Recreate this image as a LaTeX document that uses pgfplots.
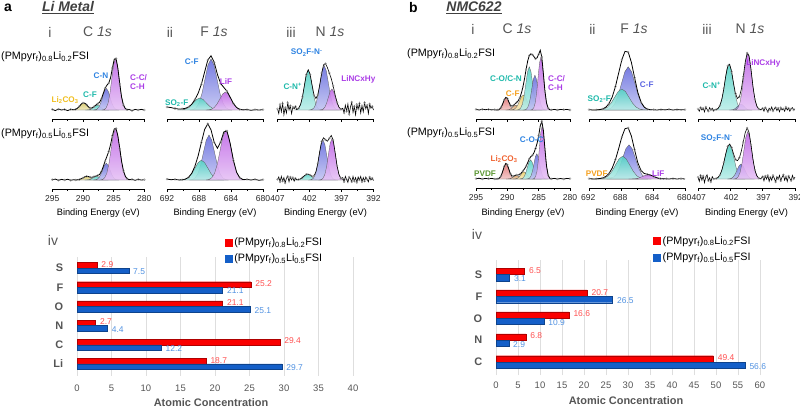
\documentclass[border=0pt]{standalone}
\usepackage{fontspec}
\setmainfont{Liberation Sans}
\setsansfont{Liberation Sans}
\usepackage{pgfplots}
\pgfplotsset{compat=1.18}
\newcommand{\fs}[1]{\fontsize{#1}{#1}\selectfont}
\definecolor{cvio}{RGB}{192,104,230}
\definecolor{cslate}{RGB}{104,110,222}
\definecolor{cteal}{RGB}{85,210,198}
\definecolor{cyel}{RGB}{215,200,100}
\definecolor{csalm}{RGB}{225,115,115}
\definecolor{ctan}{RGB}{220,160,100}
\definecolor{cyel2}{RGB}{235,205,100}
\definecolor{corg}{RGB}{240,170,60}
\definecolor{lyel}{RGB}{240,190,30}
\definecolor{lteal}{RGB}{30,185,170}
\definecolor{lblue}{RGB}{45,130,225}
\definecolor{lvio}{RGB}{170,60,230}
\definecolor{lorg}{RGB}{245,160,30}
\definecolor{lred}{RGB}{240,100,50}
\definecolor{lgreen}{RGB}{90,150,50}
\definecolor{lslate}{RGB}{90,100,225}
\definecolor{bred}{RGB}{250,0,0}
\definecolor{bblue}{RGB}{20,95,200}
\definecolor{vred}{RGB}{255,80,80}
\definecolor{vblue}{RGB}{80,145,225}
\definecolor{gtxt}{RGB}{85,85,85}
\pgfplotsset{
  spec/.style={scale only axis, height=69bp, anchor=south west,
    axis x line=bottom, axis y line=none, axis line style={-, line width=0.55pt},
    x dir=reverse, ymin=-0.15, ymax=1.0, minor x tick num=1,
    tick align=outside, major tick length=2.8bp, minor tick length=1.8bp,
    tick style={black, line width=0.5pt},
    xticklabel style={font=\fs{8.6}, text=black!85},
    /pgf/number format/assume math mode=true, clip=false},
  nolab/.style={xticklabels={}},
  pk/.style={draw=black!65, line width=0.3pt, top color=#1, bottom color=#1!40!white, fill opacity=0.9},
  dat/.style={black, line width=0.8pt, mark=o, mark size=1.05bp, mark repeat=2, mark options={draw=black!45, line width=0.3pt}},
  noisy/.style={black, line width=0.6pt, mark=o, mark size=1.05bp, mark repeat=2, mark options={draw=black!45, line width=0.3pt}},
  bars/.style={scale only axis, anchor=south west, xbar, bar width=0.29,
    axis line style={draw=none}, xtick style={draw=none}, ytick style={draw=none},
    xmajorgrids, grid style={black!13, line width=0.6pt},
    xticklabel style={font=\fs{9.5}, text=gtxt},
    yticklabel style={font=\bfseries\fs{11}, text=gtxt, xshift=-6bp},
    /pgf/number format/assume math mode=true, clip=false,
    legend style={draw=none, fill=none, font=\fs{10.8}, row sep=3bp, inner sep=0pt, cells={anchor=west}}},
  redbar/.style={fill=bred, draw=bred!70!black, line width=0.3pt, bar shift=0.145, forget plot, nodes near coords, point meta=explicit symbolic, every node near coord/.append style={anchor=west, font=\fs{8.5}, text=vred, yshift=1bp, xshift=1bp}},
  bluebar/.style={fill=bblue, draw=bblue!70!black, line width=0.3pt, bar shift=-0.145, forget plot, nodes near coords, point meta=explicit symbolic, every node near coord/.append style={anchor=west, font=\fs{8.5}, text=vblue, yshift=-1bp, xshift=1bp}},
}
\newcommand{\pk}[2]{\addplot[pk=#1] coordinates {#2} -- cycle;}
\begin{document}
\begin{tikzpicture}
\useasboundingbox (0,0) rectangle (800bp,-408bp);

% ===== a-i C 1s =====
\begin{axis}[spec, nolab, at={(52.3bp,-119bp)}, width=92bp, xmin=280, xmax=295, xtick={280,285,290,295}]
\pk{cyel}{(292.0,0) (291.7,.001) (291.4,.005) (291.1,.016) (290.8,.039) (290.5,.073) (290.2,.106) (289.9,.12) (289.6,.106) (289.3,.073) (289.0,.039) (288.7,.016) (288.4,.005) (288.1,.001) (287.8,0)}
\pk{cteal}{(289.625,0) (289.35,.001) (289.075,.004) (288.8,.011) (288.525,.026) (288.25,.049) (287.975,.071) (287.7,.08) (287.425,.071) (287.15,.049) (286.875,.026) (286.6,.011) (286.325,.004) (286.05,.001) (285.775,0)}
\pk{cslate}{(288.3,0) (288.0,.004) (287.7,.016) (287.4,.049) (287.1,.117) (286.8,.219) (286.5,.318) (286.2,.36) (285.9,.318) (285.6,.219) (285.3,.117) (285.0,.049) (284.7,.016) (284.4,.004) (284.1,0)}
\pk{cvio}{(286.8,0) (286.5,.009) (286.2,.038) (285.9,.116) (285.6,.280) (285.3,.522) (285.0,.759) (284.7,.86) (284.4,.759) (284.1,.522) (283.8,.280) (283.5,.116) (283.2,.038) (282.9,.009) (282.6,0)}
\addplot[dat] coordinates {(295,.01) (294.5,-.01) (294,.015) (293.5,0) (293,.01) (292.5,-.01) (292,.01) (291.5,.003) (291.2,.011) (290.9,.030) (290.6,.061) (290.3,.096) (290.0,.118) (289.7,.114) (289.4,.086) (289.1,.052) (288.8,.033) (288.5,.036) (288.2,.056) (287.9,.082) (287.6,.103) (287.3,.128) (287.0,.184) (286.7,.273) (286.4,.361) (286.1,.413) (285.8,.449) (285.5,.536) (285.2,.699) (284.9,.848) (284.6,.858) (284.3,.690) (284.0,.434) (283.7,.214) (283.4,.082) (283.1,.025) (282.8,.006) (282.5,.01) (282,-.01) (281.5,.01) (281,0) (280.5,.01) (280,0)};
\end{axis}
\begin{axis}[spec, at={(52.3bp,-189bp)}, width=92bp, xmin=280, xmax=295, xtick={280,285,290,295}]
\pk{cyel}{(291.5,0) (291.2,.001) (290.9,.003) (290.6,.008) (290.3,.020) (290.0,.036) (289.7,.053) (289.4,.06) (289.1,.053) (288.8,.036) (288.5,.020) (288.2,.008) (287.9,.003) (287.6,.001) (287.3,0)}
\pk{cteal}{(289.725,0) (289.45,.001) (289.175,.003) (288.9,.008) (288.625,.020) (288.35,.036) (288.075,.053) (287.8,.06) (287.525,.053) (287.25,.036) (286.975,.020) (286.7,.008) (286.425,.003) (286.15,.001) (285.875,0)}
\pk{cslate}{(288.3,0) (288.0,.003) (287.7,.012) (287.4,.038) (287.1,.091) (286.8,.170) (286.5,.247) (286.2,.28) (285.9,.247) (285.6,.170) (285.3,.091) (285.0,.038) (284.7,.012) (284.4,.003) (284.1,0)}
\pk{cvio}{(287.15,0) (286.8,.009) (286.45,.038) (286.1,.116) (285.75,.280) (285.4,.522) (285.05,.759) (284.7,.86) (284.35,.759) (284.0,.522) (283.65,.280) (283.3,.116) (282.95,.038) (282.6,.009) (282.25,0)}
\addplot[dat] coordinates {(295,.005) (294.5,.015) (294,-.005) (293.5,.01) (293,0) (292.5,.012) (292,-.005) (291.5,.005) (291.2,.001) (290.9,.003) (290.6,.008) (290.3,.020) (290.0,.036) (289.7,.053) (289.4,.061) (289.1,.057) (288.8,.047) (288.5,.047) (288.2,.055) (287.9,.067) (287.6,.074) (287.3,.092) (287.0,.140) (286.7,.221) (286.4,.312) (286.1,.392) (285.8,.474) (285.5,.590) (285.2,.738) (284.9,.852) (284.6,.859) (284.3,.731) (284.0,.522) (283.7,.310) (283.4,.152) (283.1,.063) (282.8,.022) (282.5,.006) (282,.01) (281.5,-.005) (281,.01) (280.5,0) (280,.005)};
\end{axis}

% ===== a-ii F 1s =====
\begin{axis}[spec, nolab, at={(167bp,-119bp)}, width=96bp, xmin=680, xmax=692, xtick={680,684,688,692}]
\pk{cslate}{(689.125,0) (688.75,.009) (688.375,.037) (688.0,.115) (687.625,.276) (687.25,.516) (686.875,.750) (686.5,.85) (686.125,.750) (685.75,.516) (685.375,.276) (685.0,.115) (684.625,.037) (684.25,.009) (683.875,0)}
\pk{cteal}{(690.7,0) (690.3,.002) (689.9,.009) (689.5,.027) (689.1,.065) (688.7,.121) (688.3,.176) (687.9,.2) (687.5,.176) (687.1,.121) (686.7,.065) (686.3,.027) (685.9,.009) (685.5,.002) (685.1,0)}
\pk{cvio}{(687.15,0) (686.8,.003) (686.45,.013) (686.1,.041) (685.75,.098) (685.4,.182) (685.05,.265) (684.7,.3) (684.35,.265) (684.0,.182) (683.65,.098) (683.3,.041) (682.95,.013) (682.6,.003) (682.25,0)}
\addplot[dat] coordinates {(692,.05) (691.5,.04) (691,.025) (690.5,.015) (690.1,.02) (689.7,.028) (689.3,.050) (688.9,.097) (688.5,.176) (688.1,.282) (687.7,.430) (687.3,.632) (686.9,.832) (686.5,.904) (686.1,.795) (685.7,.594) (685.3,.443) (684.9,.376) (684.5,.313) (684.1,.212) (683.7,.108) (683.3,.041) (682.9,.011) (682.5,.002) (682,.008) (681.5,-.005) (681,.005) (680.5,0) (680,.005)};
\end{axis}
\begin{axis}[spec, at={(167bp,-189bp)}, width=96bp, xmin=680, xmax=692, xtick={680,684,688,692}]
\pk{cslate}{(689.2,0) (688.85,.008) (688.5,.033) (688.15,.101) (687.8,.244) (687.45,.455) (687.1,.662) (686.75,.75) (686.4,.662) (686.05,.455) (685.7,.244) (685.35,.101) (685.0,.033) (684.65,.008) (684.3,0)}
\pk{cteal}{(690.5,0) (690.1,.004) (689.7,.015) (689.3,.045) (688.9,.107) (688.5,.200) (688.1,.291) (687.7,.33) (687.3,.291) (686.9,.200) (686.5,.107) (686.1,.045) (685.7,.015) (685.3,.004) (684.9,0)}
\pk{cvio}{(687.1,0) (686.75,.009) (686.4,.037) (686.05,.112) (685.7,.270) (685.35,.504) (685.0,.732) (684.65,.83) (684.3,.732) (683.95,.504) (683.6,.270) (683.25,.112) (682.9,.037) (682.55,.009) (682.2,0)}
\addplot[dat] coordinates {(692,.015) (691.5,.005) (691,.01) (690.5,.001) (690.1,.004) (689.7,.015) (689.3,.045) (688.9,.114) (688.5,.233) (688.1,.407) (687.7,.628) (687.3,.841) (686.9,.938) (686.5,.836) (686.1,.629) (685.7,.529) (685.3,.631) (684.9,.801) (684.5,.817) (684.1,.608) (683.7,.330) (683.3,.129) (682.9,.037) (682.5,.007) (682,.01) (681.5,0) (681,.01) (680.5,-.005) (680,.005)};
\end{axis}

% ===== a-iii N 1s =====
\begin{axis}[spec, nolab, at={(277.5bp,-119bp)}, width=96bp, xmin=392, xmax=407, xtick={392,397,402,407}]
\pk{cteal}{(404.3,0) (404.0,.007) (403.7,.029) (403.4,.090) (403.1,.218) (402.8,.407) (402.5,.591) (402.2,.67) (401.9,.591) (401.6,.407) (401.3,.218) (401.0,.090) (400.7,.029) (400.4,.007) (400.1,0)}
\pk{cslate}{(401.975,0) (401.65,.008) (401.325,.033) (401.0,.100) (400.675,.241) (400.35,.449) (400.025,.653) (399.7,.74) (399.375,.653) (399.05,.449) (398.725,.241) (398.4,.100) (398.075,.033) (397.75,.008) (397.425,0)}
\pk{cvio}{(400.425,0) (400.15,.004) (399.875,.015) (399.6,.047) (399.325,.114) (399.05,.212) (398.775,.309) (398.5,.35) (398.225,.309) (397.95,.212) (397.675,.114) (397.4,.047) (397.125,.015) (396.85,.004) (396.575,0)}
\addplot[noisy] coordinates {(407,.02) (406.8,-.06) (406.6,.09) (406.4,-.03) (406.2,.11) (406.0,-.08) (405.8,.04) (405.6,-.05) (405.4,.12) (405.2,0) (405.0,.07) (404.8,-.06) (404.6,.05) (404.4,.02) (404.2,.06) (404.0,.007) (403.7,.029) (403.4,.090) (403.1,.218) (402.8,.407) (402.5,.591) (402.2,.670) (401.9,.593) (401.6,.417) (401.3,.254) (401.0,.190) (400.7,.255) (400.4,.421) (400.1,.616) (399.8,.754) (399.5,.772) (399.2,.706) (398.9,.615) (398.6,.522) (398.3,.401) (398.0,.255) (397.7,.129) (397.4,.047) (397.1,.014) (396.8,.03) (396.6,-.05) (396.4,.08) (396.2,-.02) (396.0,.10) (395.8,-.07) (395.6,.05) (395.4,.13) (395.2,-.04) (395.0,.06) (394.8,-.08) (394.6,.09) (394.4,.01) (394.2,.11) (394.0,-.05) (393.8,.07) (393.6,-.03) (393.4,.12) (393.2,.02) (393.0,.08) (392.8,-.06) (392.6,.10) (392.4,.03) (392.2,.06) (392.0,0)};
\end{axis}
\begin{axis}[spec, at={(277.5bp,-189bp)}, width=96bp, xmin=392, xmax=407, xtick={392,397,402,407}]
\pk{cteal}{(404.4,0) (404.1,.001) (403.8,.004) (403.5,.014) (403.2,.033) (402.9,.061) (402.6,.088) (402.3,.1) (402.0,.088) (401.7,.061) (401.4,.033) (401.1,.014) (400.8,.004) (400.5,.001) (400.2,0)}
\pk{cslate}{(402.0,0) (401.7,.007) (401.4,.029) (401.1,.090) (400.8,.218) (400.5,.407) (400.2,.591) (399.9,.67) (399.6,.591) (399.3,.407) (399.0,.218) (398.7,.090) (398.4,.029) (398.1,.007) (397.8,0)}
\pk{cvio}{(400.425,0) (400.15,.008) (399.875,.030) (399.6,.093) (399.325,.224) (399.05,.419) (398.775,.609) (398.5,.69) (398.225,.609) (397.95,.419) (397.675,.224) (397.4,.093) (397.125,.030) (396.85,.008) (396.575,0)}
\addplot[noisy] coordinates {(407,.01) (406.8,.05) (406.6,-.03) (406.4,.06) (406.2,-.02) (406.0,.04) (405.8,-.05) (405.6,.03) (405.4,.06) (405.2,-.03) (405.0,.05) (404.8,0) (404.6,.04) (404.4,-.02) (404.2,.03) (404.0,.002) (403.7,.007) (403.4,.019) (403.1,.041) (402.8,.071) (402.5,.095) (402.2,.099) (401.9,.083) (401.6,.063) (401.3,.069) (401.0,.135) (400.7,.279) (400.4,.476) (400.1,.644) (399.8,.704) (399.5,.668) (399.2,.646) (398.9,.696) (398.6,.743) (398.3,.666) (398.0,.461) (397.7,.241) (397.4,.093) (397.1,.027) (396.8,.04) (396.6,-.03) (396.4,.06) (396.2,.01) (396.0,-.04) (395.8,.05) (395.6,.02) (395.4,-.03) (395.2,.06) (395.0,-.02) (394.8,.04) (394.6,-.04) (394.4,.05) (394.2,0) (394.0,.06) (393.8,-.03) (393.6,.04) (393.4,-.02) (393.2,.05) (393.0,.01) (392.8,-.03) (392.6,.05) (392.4,0) (392.2,.03) (392.0,-.01)};
\end{axis}

% ===== b-i C 1s =====
\begin{axis}[spec, nolab, at={(476bp,-119bp)}, width=94bp, xmin=280, xmax=295, xtick={280,285,290,295}]
\pk{csalm}{(291.775,0) (291.55,.002) (291.325,.009) (291.1,.028) (290.875,.068) (290.65,.127) (290.425,.185) (290.2,.21) (289.975,.185) (289.75,.127) (289.525,.068) (289.3,.028) (289.075,.009) (288.85,.002) (288.625,0)}
\pk{ctan}{(290.275,0) (290.05,.001) (289.825,.004) (289.6,.011) (289.375,.026) (289.15,.049) (288.925,.071) (288.7,.08) (288.475,.071) (288.25,.049) (288.025,.026) (287.8,.011) (287.575,.004) (287.35,.001) (287.125,0)}
\pk{cyel2}{(289.55,0) (289.25,.003) (288.95,.011) (288.65,.034) (288.35,.081) (288.05,.152) (287.75,.221) (287.45,.25) (287.15,.221) (286.85,.152) (286.55,.081) (286.25,.034) (285.95,.011) (285.65,.003) (285.35,0)}
\pk{cteal}{(288.425,0) (288.15,.008) (287.875,.032) (287.6,.097) (287.325,.234) (287.05,.437) (286.775,.635) (286.5,.72) (286.225,.635) (285.95,.437) (285.675,.234) (285.4,.097) (285.125,.032) (284.85,.008) (284.575,0)}
\pk{cslate}{(287.35,0) (287.1,.006) (286.85,.026) (286.6,.078) (286.35,.189) (286.1,.352) (285.85,.512) (285.6,.58) (285.35,.512) (285.1,.352) (284.85,.189) (284.6,.078) (284.35,.026) (284.1,.006) (283.85,0)}
\pk{cvio}{(286.225,0) (286.0,.010) (285.775,.039) (285.55,.119) (285.325,.286) (285.1,.534) (284.875,.776) (284.65,.88) (284.425,.776) (284.2,.534) (283.975,.286) (283.75,.119) (283.525,.039) (283.3,.010) (283.075,0)}
\addplot[dat] coordinates {(295,.01) (294.5,0) (294,.012) (293.5,.005) (293,.01) (292.5,.002) (292.0,.005) (291.75,.001) (291.5,.003) (291.25,.014) (291.0,.043) (290.75,.100) (290.5,.168) (290.25,.209) (290.0,.191) (289.75,.132) (289.5,.079) (289.25,.064) (289.0,.079) (288.75,.105) (288.5,.128) (288.25,.156) (288.0,.205) (287.75,.285) (287.5,.390) (287.25,.524) (287.0,.680) (286.75,.818) (286.5,.907) (286.25,.936) (286.0,.920) (285.75,.889) (285.5,.853) (285.25,.871) (285.0,.931) (284.75,.996) (284.5,.884) (284.25,.607) (284.0,.315) (283.75,.119) (283.5,.033) (283.25,.007) (283.0,.001) (282.5,.01) (282,0) (281.5,.01) (281,.005) (280.5,.01) (280,0)};
\end{axis}
\begin{axis}[spec, at={(476bp,-188bp)}, width=94bp, xmin=280, xmax=295, xtick={280,285,290,295}]
\pk{csalm}{(291.775,0) (291.55,.003) (291.325,.011) (291.1,.035) (290.875,.085) (290.65,.158) (290.425,.229) (290.2,.26) (289.975,.229) (289.75,.158) (289.525,.085) (289.3,.035) (289.075,.011) (288.85,.003) (288.625,0)}
\pk{ctan}{(290.175,0) (289.95,.001) (289.725,.003) (289.5,.008) (289.275,.020) (289.05,.036) (288.825,.053) (288.6,.06) (288.375,.053) (288.15,.036) (287.925,.020) (287.7,.008) (287.475,.003) (287.25,.001) (287.025,0)}
\pk{cyel2}{(289.1,0) (288.85,.001) (288.6,.005) (288.35,.016) (288.1,.039) (287.85,.073) (287.6,.106) (287.35,.12) (287.1,.106) (286.85,.073) (286.6,.039) (286.35,.016) (286.1,.005) (285.85,.001) (285.6,0)}
\pk{cteal}{(288.05,0) (287.8,.004) (287.55,.014) (287.3,.043) (287.05,.104) (286.8,.194) (286.55,.282) (286.3,.32) (286.05,.282) (285.8,.194) (285.55,.104) (285.3,.043) (285.05,.014) (284.8,.004) (284.55,0)}
\pk{cslate}{(286.875,0) (286.65,.005) (286.425,.018) (286.2,.057) (285.975,.137) (285.75,.255) (285.525,.370) (285.3,.42) (285.075,.370) (284.85,.255) (284.625,.137) (284.4,.057) (284.175,.018) (283.95,.005) (283.725,0)}
\pk{cvio}{(285.92,0) (285.71,.010) (285.5,.039) (285.29,.119) (285.08,.286) (284.87,.534) (284.66,.776) (284.45,.88) (284.24,.776) (284.03,.534) (283.82,.286) (283.61,.119) (283.4,.039) (283.19,.010) (282.98,0)}
\addplot[dat] coordinates {(295,.005) (294.5,.012) (294,0) (293.5,.01) (293,.005) (292.5,.01) (292.0,0) (291.75,.001) (291.5,.004) (291.25,.017) (291.0,.053) (290.75,.124) (290.5,.208) (290.25,.258) (290.0,.236) (289.75,.160) (289.5,.085) (289.25,.049) (289.0,.048) (288.75,.060) (288.5,.068) (288.25,.068) (288.0,.078) (287.75,.102) (287.5,.136) (287.25,.170) (287.0,.214) (286.75,.273) (286.5,.335) (286.25,.374) (286.0,.396) (285.75,.437) (285.5,.509) (285.25,.596) (285.0,.720) (284.75,.885) (284.5,.960) (284.25,.813) (284.0,.502) (283.75,.219) (283.5,.069) (283.25,.015) (283.0,.003) (282.5,.01) (282,0) (281.5,.008) (281,0) (280.5,.01) (280,.005)};
\end{axis}

% ===== b-ii F 1s =====
\begin{axis}[spec, nolab, at={(589bp,-119bp)}, width=96bp, xmin=680, xmax=692, xtick={680,684,688,692}]
\pk{corg}{(691.6,0) (691.1,.001) (690.6,.004) (690.1,.010) (689.6,.018) (689.1,.026) (688.6,.03) (688.1,.026) (687.6,.018) (687.1,.010) (686.6,.004) (686.1,.001) (685.6,0)}
\pk{cslate}{(690.075,0) (689.65,.008) (689.225,.032) (688.8,.097) (688.375,.234) (687.95,.437) (687.525,.635) (687.1,.72) (686.675,.635) (686.25,.437) (685.825,.234) (685.4,.097) (684.975,.032) (684.55,.008) (684.125,0)}
\pk{cteal}{(691.05,0) (690.6,.004) (690.15,.015) (689.7,.047) (689.25,.114) (688.8,.212) (688.35,.309) (687.9,.35) (687.45,.309) (687.0,.212) (686.55,.114) (686.1,.047) (685.65,.015) (685.2,.004) (684.75,0)}
\addplot[dat] coordinates {(692,.005) (691.5,0) (691.1,.002) (690.7,.006) (690.3,.018) (689.9,.046) (689.5,.106) (689.1,.215) (688.7,.389) (688.3,.612) (687.9,.836) (687.5,.977) (687.1,.966) (686.7,.793) (686.3,.537) (685.9,.296) (685.5,.133) (685.1,.048) (684.7,.014) (684.3,.003) (683.9,.005) (683.5,0) (683,.008) (682.5,.002) (682,.01) (681.5,0) (681,.008) (680.5,.002) (680,.005)};
\end{axis}
\begin{axis}[spec, at={(589bp,-188bp)}, width=96bp, xmin=680, xmax=692, xtick={680,684,688,692}, xticklabel style={xshift=-0.8bp}]
\pk{corg}{(691.8,0) (691.3,.001) (690.8,.004) (690.3,.010) (689.8,.018) (689.3,.026) (688.8,.03) (688.3,.026) (687.8,.018) (687.3,.010) (686.8,.004) (686.3,.001) (685.8,0)}
\pk{cslate}{(689.8,0) (689.4,.006) (689.0,.025) (688.6,.077) (688.2,.185) (687.8,.346) (687.4,.503) (687.0,.57) (686.6,.503) (686.2,.346) (685.8,.185) (685.4,.077) (685.0,.025) (684.6,.006) (684.2,0)}
\pk{cteal}{(690.95,0) (690.5,.004) (690.05,.017) (689.6,.051) (689.15,.124) (688.7,.231) (688.25,.335) (687.8,.38) (687.35,.335) (686.9,.231) (686.45,.124) (686.0,.051) (685.55,.017) (685.1,.004) (684.65,0)}
\pk{cvio}{(687.05,0) (686.7,.001) (686.35,.003) (686.0,.009) (685.65,.023) (685.3,.042) (684.95,.062) (684.6,.07) (684.25,.062) (683.9,.042) (683.55,.023) (683.2,.009) (682.85,.003) (682.5,.001) (682.15,0)}
\addplot[dat] coordinates {(692,.005) (691.5,.001) (691.1,.002) (690.7,.007) (690.3,.018) (689.9,.042) (689.5,.091) (689.1,.182) (688.7,.320) (688.3,.503) (687.9,.700) (687.5,.839) (687.1,.852) (686.7,.715) (686.3,.486) (685.9,.273) (685.5,.141) (685.1,.092) (684.7,.078) (684.3,.066) (683.9,.042) (683.5,.020) (683.1,.007) (682.7,.002) (682.3,.005) (682,0) (681.5,.008) (681,0) (680.5,.006) (680,0)};
\end{axis}

% ===== b-iii N 1s =====
\begin{axis}[spec, nolab, at={(698bp,-119bp)}, width=97bp, xmin=392, xmax=407, xtick={392,397,402,407}]
\pk{cteal}{(404.475,0) (404.15,.008) (403.825,.034) (403.5,.104) (403.175,.250) (402.85,.467) (402.525,.679) (402.2,.77) (401.875,.679) (401.55,.467) (401.225,.250) (400.9,.104) (400.575,.034) (400.25,.008) (399.925,0)}
\pk{cslate}{(402.15,0) (401.9,.001) (401.65,.004) (401.4,.014) (401.15,.033) (400.9,.061) (400.65,.088) (400.4,.1) (400.15,.088) (399.9,.061) (399.65,.033) (399.4,.014) (399.15,.004) (398.9,.001) (398.65,0)}
\pk{cvio}{(401.4,0) (401.1,.010) (400.8,.042) (400.5,.128) (400.2,.309) (399.9,.577) (399.6,.838) (399.3,.95) (399.0,.838) (398.7,.577) (398.4,.309) (398.1,.128) (397.8,.042) (397.5,.010) (397.2,0)}
\addplot[noisy] coordinates {(407,.02) (406.8,-.02) (406.6,.04) (406.4,0) (406.2,.03) (406.0,-.03) (405.8,.05) (405.6,.01) (405.4,-.02) (405.2,.04) (405.0,0) (404.8,.03) (404.6,-.01) (404.5,.001) (404.2,.007) (403.9,.025) (403.6,.076) (403.3,.185) (403.0,.361) (402.7,.572) (402.4,.734) (402.1,.761) (401.8,.638) (401.5,.440) (401.2,.271) (400.9,.193) (400.6,.219) (400.3,.346) (400.0,.556) (399.7,.798) (399.4,.951) (399.1,.902) (398.8,.673) (398.5,.391) (398.2,.178) (397.9,.063) (397.6,.017) (397.3,.004) (397.0,.03) (396.8,-.02) (396.6,.04) (396.4,.01) (396.2,-.03) (396.0,.03) (395.8,0) (395.6,.05) (395.4,-.02) (395.2,.02) (395.0,.04) (394.8,-.01) (394.6,.03) (394.4,-.03) (394.2,.04) (394.0,0) (393.8,.02) (393.6,-.02) (393.4,.05) (393.2,0) (393.0,.03) (392.8,-.02) (392.6,.02) (392.4,.04) (392.2,0) (392.0,.02)};
\end{axis}
\begin{axis}[spec, at={(698bp,-188bp)}, width=97bp, xmin=392, xmax=407, xtick={392,397,402,407}, xticklabel style={xshift=0.8bp}]
\pk{cteal}{(404.6,0) (404.25,.006) (403.9,.026) (403.55,.078) (403.2,.189) (402.85,.352) (402.5,.512) (402.15,.58) (401.8,.512) (401.45,.352) (401.1,.189) (400.75,.078) (400.4,.026) (400.05,.006) (399.7,0)}
\pk{cslate}{(402.45,0) (402.15,.003) (401.85,.011) (401.55,.034) (401.25,.081) (400.95,.152) (400.65,.221) (400.35,.25) (400.05,.221) (399.75,.152) (399.45,.081) (399.15,.034) (398.85,.011) (398.55,.003) (398.25,0)}
\pk{cvio}{(401.4,0) (401.1,.009) (400.8,.035) (400.5,.107) (400.2,.257) (399.9,.480) (399.6,.697) (399.3,.79) (399.0,.697) (398.7,.480) (398.4,.257) (398.1,.107) (397.8,.035) (397.5,.009) (397.2,0)}
\addplot[noisy] coordinates {(407,.03) (406.8,-.04) (406.6,.06) (406.4,-.02) (406.2,.05) (406.0,-.06) (405.8,.03) (405.6,.07) (405.4,-.03) (405.2,.02) (405.0,-.05) (404.8,.04) (404.6,0) (404.5,.002) (404.2,.008) (403.9,.026) (403.6,.068) (403.3,.151) (403.0,.279) (402.7,.425) (402.4,.543) (402.1,.583) (401.8,.525) (401.5,.417) (401.2,.327) (400.9,.304) (400.6,.354) (400.3,.464) (400.0,.615) (399.7,.772) (399.4,.851) (399.1,.776) (398.8,.568) (398.5,.327) (398.2,.148) (397.9,.052) (397.6,.014) (397.3,.003) (397.0,.04) (396.8,-.03) (396.6,.05) (396.4,0) (396.2,.06) (396.0,-.04) (395.8,.03) (395.6,-.02) (395.4,.06) (395.2,.01) (395.0,-.05) (394.8,.04) (394.6,0) (394.4,.06) (394.2,-.03) (394.0,.03) (393.8,.07) (393.6,-.02) (393.4,.04) (393.2,-.04) (393.0,.05) (392.8,.01) (392.6,-.03) (392.4,.06) (392.2,0) (392.0,.03)};
\end{axis}

% ===== a-iv bars =====
\begin{axis}[bars, at={(77bp,-375.5bp)}, width=276bp, height=118bp,
  xmin=0, xmax=40, xtick={0,5,...,40}, ymin=-0.6, ymax=5.55,
  ytick={0,...,5}, yticklabels={Li,C,N,O,F,S},
  xticklabel style={yshift=-5.5bp},
  legend style={at={(0.535,1.185)}, anchor=north west}]
\addplot[redbar] coordinates {(2.9,5) [2.9] (25.2,4) [25.2] (21.1,3) [21.1] (2.7,2) [2.7] (29.4,1) [29.4] (18.7,0) [18.7]};
\addplot[bluebar] coordinates {(7.5,5) [7.5] (21.1,4) [21.1] (25.1,3) [25.1] (4.4,2) [4.4] (12.2,1) [12.2] (29.7,0) [29.7]};
\addlegendimage{legend image code/.code={\fill[bred] (0bp,-3.5bp) rectangle (7bp,3.5bp);}}
\addlegendentry{(PMpyr\textsubscript{f})\textsubscript{0.8}Li\textsubscript{0.2}FSI}
\addlegendimage{legend image code/.code={\fill[bblue] (0bp,-3.5bp) rectangle (7bp,3.5bp);}}
\addlegendentry{(PMpyr\textsubscript{f})\textsubscript{0.5}Li\textsubscript{0.5}FSI}
\end{axis}

% ===== b-iv bars =====
\begin{axis}[bars, at={(496bp,-375.2bp)}, width=264bp, height=115bp,
  xmin=0, xmax=60, xtick={0,5,...,60}, ymin=-0.6, ymax=4.65,
  ytick={0,...,4}, yticklabels={C,N,O,F,S},
  xticklabel style={yshift=-3bp},
  legend style={at={(0.595,1.225)}, anchor=north west}]
\addplot[redbar] coordinates {(6.5,4) [6.5] (20.7,3) [20.7] (16.6,2) [16.6] (6.8,1) [6.8] (49.4,0) [49.4]};
\addplot[bluebar] coordinates {(3.1,4) [3.1] (26.5,3) [26.5] (10.9,2) [10.9] (2.9,1) [2.9] (56.6,0) [56.6]};
\addlegendimage{legend image code/.code={\fill[bred] (0bp,-3.5bp) rectangle (7bp,3.5bp);}}
\addlegendentry{(PMpyr\textsubscript{f})\textsubscript{0.8}Li\textsubscript{0.2}FSI}
\addlegendimage{legend image code/.code={\fill[bblue] (0bp,-3.5bp) rectangle (7bp,3.5bp);}}
\addlegendentry{(PMpyr\textsubscript{f})\textsubscript{0.5}Li\textsubscript{0.5}FSI}
\end{axis}

% ===== text =====
\begin{scope}[x=1bp, y=-1bp]
\node[anchor=west, font=\bfseries\fs{14}, inner sep=0pt] at (4,8) {a};
\node[font=\bfseries\itshape\fs{14}, text=black!75, inner sep=0pt] at (68,8) {\underline{Li Metal}};
\node[anchor=west, font=\bfseries\fs{14}, inner sep=0pt] at (409,8) {b};
\node[font=\bfseries\itshape\fs{14}, text=black!75, inner sep=0pt] at (474,8) {\underline{NMC622}};
\begin{scope}[every node/.style={font=\fs{14}, text=gtxt, inner sep=0pt}]
\node at (50,32) {i}; \node at (97.5,32) {C \textit{1s}};
\node at (170,32) {ii}; \node at (214,32) {F \textit{1s}};
\node at (291,32) {iii}; \node at (330,32) {N \textit{1s}};
\node at (473,29) {i}; \node at (517,29) {C \textit{1s}};
\node at (592.5,29) {ii}; \node at (634,29) {F \textit{1s}};
\node at (707,29) {iii}; \node at (750,29) {N \textit{1s}};
\node at (53,240) {iv}; \node at (477,234) {iv};
\end{scope}
\begin{scope}[every node/.style={font=\fs{10.8}, anchor=west, inner sep=0pt}]
\node at (1,57) {(PMpyr\textsubscript{f})\textsubscript{0.8}Li\textsubscript{0.2}FSI};
\node at (1,134) {(PMpyr\textsubscript{f})\textsubscript{0.5}Li\textsubscript{0.5}FSI};
\node at (407,54) {(PMpyr\textsubscript{f})\textsubscript{0.8}Li\textsubscript{0.2}FSI};
\node at (407,133) {(PMpyr\textsubscript{f})\textsubscript{0.5}Li\textsubscript{0.5}FSI};
\end{scope}
\begin{scope}[every node/.style={font=\fs{9.3}, inner sep=0pt}]
\node at (98.3,213) {Binding Energy (eV)};
\node at (215,213) {Binding Energy (eV)};
\node at (325.5,213) {Binding Energy (eV)};
\node at (523,213) {Binding Energy (eV)};
\node at (637,213) {Binding Energy (eV)};
\node at (746.5,213) {Binding Energy (eV)};
\end{scope}
\node[font=\bfseries\fs{11}, text=gtxt, inner sep=0pt] at (211,402.5) {Atomic Concentration};
\node[font=\bfseries\fs{11}, text=gtxt, inner sep=0pt] at (626,401) {Atomic Concentration};
\begin{scope}[every node/.style={font=\bfseries\fs{8.2}, inner sep=0pt}]
\node[text=lyel] at (65,100) {Li\textsubscript{2}CO\textsubscript{3}};
\node[text=lteal] at (90,95) {C-F};
\node[text=lblue] at (101,76) {C-N};
\node[text=lvio, anchor=west] at (130,78) {C-C/};
\node[text=lvio, anchor=west] at (130,86.5) {C-H};
\node[text=lblue] at (191.7,61.7) {C-F};
\node[text=lvio] at (226,81.7) {LiF};
\node[text=lteal] at (176.7,103.3) {SO\textsubscript{2}-F};
\node[text=lblue] at (306.7,52.7) {SO\textsubscript{2}F-N\textsuperscript{-}};
\node[text=lteal] at (292.7,86) {C-N\textsuperscript{+}};
\node[text=lvio] at (358.3,79.3) {LiNCxHy};
\node[text=lteal] at (506,78.3) {C-O/C-N};
\node[text=lorg] at (512.7,93.3) {C-F};
\node[text=lvio, anchor=west] at (548,79) {C-C/};
\node[text=lvio, anchor=west] at (548,87.5) {C-H};
\node[text=lblue] at (531.7,140) {C-O-C};
\node[text=lred] at (504,159.3) {Li\textsubscript{2}CO\textsubscript{3}};
\node[text=lgreen] at (485,174) {PVDF};
\node[text=lteal] at (599.3,99.3) {SO\textsubscript{2}-F};
\node[text=lslate] at (646.7,85) {C-F};
\node[text=lorg] at (596.7,173.3) {PVDF};
\node[text=lvio] at (658.3,173.3) {LiF};
\node[text=lteal] at (711.7,85) {C-N\textsuperscript{+}};
\node[text=lvio] at (763.3,63.3) {LiNCxHy};
\node[text=lblue] at (716.7,138.3) {SO\textsubscript{2}F-N\textsuperscript{-}};
\end{scope}
\end{scope}
\end{tikzpicture}
\end{document}
